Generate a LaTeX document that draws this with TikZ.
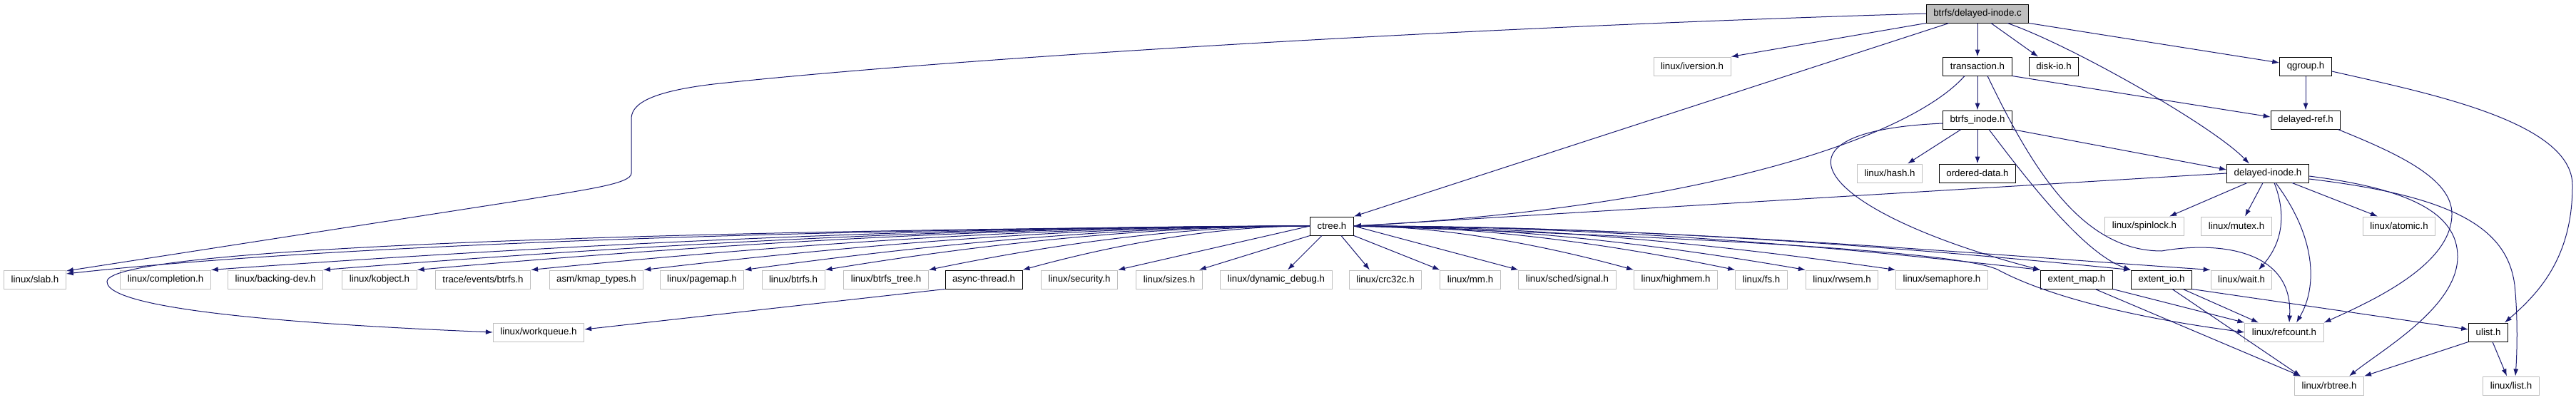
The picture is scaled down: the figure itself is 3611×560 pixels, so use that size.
\documentclass[tikz,border=0pt]{standalone}
\usepackage{fontspec}
\setmainfont{Liberation Sans}
\usetikzlibrary{arrows.meta}
\definecolor{depblue}{HTML}{191970}
\definecolor{sysgray}{HTML}{BFBFBF}

\begin{document}
\begin{tikzpicture}[
    x=1pt, y=-1pt,
    >={Latex[length=10pt,width=7pt]},
    dep/.style={->, line width=1pt, draw=depblue},
    hdr/.style={
        rectangle,
        minimum height=26pt,
        inner xsep=10pt,
        inner ysep=0pt,
        line width=1pt,
        fill=white,
        font=\fontsize{13.3}{15}\selectfont
    },
    doc/.style={hdr, draw=black},
    sys/.style={hdr, draw=sysgray},
    srcfile/.style={hdr, draw=black, fill=sysgray}
]

    \useasboundingbox (0,0) rectangle (3611,560);

    %------------------------------------------------
    % 1. soubory nahore
    %------------------------------------------------
    \node[srcfile] (root) at (2772,19) {btrfs/delayed-inode.c};

    \node[sys] (iversion) at (2372,93) {linux/iversion.h};
    \node[doc] (trans)    at (2772,93) {transaction.h};
    \node[doc] (diskio)   at (2879,93) {disk-io.h};
    \node[doc] (qgroup)   at (3232,93) {qgroup.h};

    \node[doc] (binode) at (2772,168) {btrfs\_inode.h};
    \node[doc] (dref)   at (3232,168) {delayed-ref.h};

    \node[sys] (hash)   at (2649,243) {linux/hash.h};
    \node[doc] (odata)  at (2772,243) {ordered-data.h};
    \node[doc] (dinode) at (3179,243) {delayed-inode.h};

    \node[doc] (ctree)  at (1867,317) {ctree.h};
    \node[sys] (spin)   at (3006,317) {linux/spinlock.h};
    \node[sys] (mutex)  at (3135,317) {linux/mutex.h};
    \node[sys] (atomic) at (3363,317) {linux/atomic.h};

    %------------------------------------------------
    % 2. rada hlavicek pod ctree.h
    %------------------------------------------------
    \node[sys] (slab)    at (49,392)   {linux/slab.h};
    \node[sys] (compl)   at (232,392)  {linux/completion.h};
    \node[sys] (backdev) at (386,392)  {linux/backing-dev.h};
    \node[sys] (kobj)    at (532,392)  {linux/kobject.h};
    \node[sys] (trace)   at (677,392)  {trace/events/btrfs.h};
    \node[sys] (kmap)    at (836,392)  {asm/kmap\_types.h};
    \node[sys] (pagemap) at (984,392)  {linux/pagemap.h};
    \node[sys] (lbtrfs)  at (1112,392) {linux/btrfs.h};
    \node[sys] (btree)   at (1242,392) {linux/btrfs\_tree.h};
    \node[doc] (async)   at (1379,392) {async-thread.h};
    \node[sys] (secur)   at (1513,392) {linux/security.h};
    \node[sys] (sizes)   at (1639,392) {linux/sizes.h};
    \node[sys] (dyndbg)  at (1789,392) {linux/dynamic\_debug.h};
    \node[sys] (crc)     at (1942,392) {linux/crc32c.h};
    \node[sys] (mm)      at (2061,392) {linux/mm.h};
    \node[sys] (signal)  at (2197,392) {linux/sched/signal.h};
    \node[sys] (highmem) at (2349,392) {linux/highmem.h};
    \node[sys] (fs)      at (2469,392) {linux/fs.h};
    \node[sys] (rwsem)   at (2582,392) {linux/rwsem.h};
    \node[sys] (sema)    at (2722,392) {linux/semaphore.h};
    \node[doc] (emap)    at (2911,392) {extent\_map.h};
    \node[doc] (eio)     at (3030,392) {extent\_io.h};
    \node[sys] (wait)    at (3142,392) {linux/wait.h};

    \node[sys] (wqueue) at (755,466)  {linux/workqueue.h};
    \node[sys] (refc)   at (3202,466) {linux/refcount.h};
    \node[doc] (ulist)  at (3488,466) {ulist.h};

    \node[sys] (rbtree) at (3265,541) {linux/rbtree.h};
    \node[sys] (list)   at (3520,541) {linux/list.h};

    %------------------------------------------------
    % 3. zavislosti
    %------------------------------------------------
    \draw[dep] (root.west) .. controls (2000,40) and (1300,85) .. (1000,118)
        .. controls (900,130) and (885,150) .. (885,167) -- (885,243)
        .. controls (885,258) and (820,266) .. (731,281) -- ([yshift=12pt]slab.east);
    \draw[dep] (root.south west) -- (iversion.north east);
    \draw[dep] ([xshift=-40pt]root.south) -- (ctree.north east);
    \draw[dep] (root.south) -- (trans.north);
    \draw[dep] ([xshift=19pt]root.south) -- ([xshift=-22pt]diskio.north);
    \draw[dep] ([xshift=42pt]root.south) .. controls (2900,62) and (3100,175) .. ([xshift=-26pt]dinode.north);
    \draw[dep] (root.south east) -- ([yshift=5pt]qgroup.west);

    \draw[dep] (trans.south) -- (binode.north);
    \draw[dep] (trans.south east) -- ([yshift=4pt]dref.west);
    \draw[dep] ([xshift=-18pt]trans.south) .. controls (2680,190) and (2400,290) .. (ctree.east);
    \draw[dep] ([xshift=14pt]trans.south) .. controls (2850,240) and (2920,352) .. (3030,352)
        .. controls (3110,338) and (3215,350) .. ([xshift=7pt]refc.north);

    \draw[dep] ([xshift=-23pt]binode.south) -- ([xshift=25pt]hash.north);
    \draw[dep] (binode.south) -- (odata.north);
    \draw[dep] (binode.south east) -- ([yshift=5pt]dinode.west);
    \draw[dep] ([yshift=-5pt]binode.west) .. controls (2450,185) and (2560,300) .. (emap.north west);
    \draw[dep] ([xshift=16pt]binode.south) .. controls (2840,250) and (2920,355) .. (eio.north west);

    \draw[dep] (qgroup.south) -- (dref.north);
    \draw[dep] ([yshift=-7pt]qgroup.east) .. controls (3400,130) and (3606,170) .. (3606,260)
        .. controls (3606,360) and (3560,410) .. ([xshift=23pt]ulist.north);

    \draw[dep] ([xshift=-4pt]dref.south east) .. controls (3360,215) and (3437,250) .. (3437,300)
        .. controls (3437,370) and (3330,420) .. (refc.north east);

    \draw[dep] (dinode.west) -- (ctree.east);
    \draw[dep] ([xshift=-29pt]dinode.south) -- ([xshift=35pt]spin.north);
    \draw[dep] ([xshift=-7pt]dinode.south) -- ([xshift=12pt]mutex.north);
    \draw[dep] ([xshift=9pt]dinode.south) .. controls (3205,300) and (3200,340) .. ([xshift=24pt]wait.north);
    \draw[dep] ([xshift=11pt]dinode.south) .. controls (3245,330) and (3250,400) .. ([xshift=17pt]refc.north);
    \draw[dep] ([xshift=34pt]dinode.south) -- ([xshift=-30pt]atomic.north);
    \draw[dep] ([yshift=-4pt]dinode.east) .. controls (3380,265) and (3445,300) .. (3445,360)
        .. controls (3445,430) and (3340,490) .. ([xshift=28pt]rbtree.north);
    \draw[dep] ([yshift=-8pt]dinode.east) .. controls (3440,275) and (3515,320) .. (3525,400)
        .. controls (3530,450) and (3528,500) .. ([xshift=6pt]list.north);

    % ctree.h doleva
    \draw[dep] (ctree.west) .. controls (1000,322) and (400,350) .. ([yshift=8pt]slab.east);
    \draw[dep] (ctree.west) .. controls (1000,322) and (150,345) .. (150,395)
        .. controls (150,440) and (500,458) .. (wqueue.west);
    \draw[dep] (ctree.west) .. controls +(-540,0) and +(460,-33) .. (compl.north east);
    \draw[dep] (ctree.west) .. controls +(-480,0) and +(415,-33) .. (backdev.north east);
    \draw[dep] (ctree.west) .. controls +(-440,0) and +(375,-33) .. (kobj.north east);
    \draw[dep] (ctree.west) .. controls +(-380,0) and +(330,-33) .. (trace.north east);
    \draw[dep] (ctree.west) .. controls +(-330,0) and +(280,-33) .. (kmap.north east);
    \draw[dep] (ctree.west) .. controls +(-280,0) and +(240,-33) .. (pagemap.north east);
    \draw[dep] (ctree.west) .. controls +(-240,0) and +(200,-33) .. (lbtrfs.north east);
    \draw[dep] (ctree.west) .. controls +(-190,0) and +(160,-33) .. (btree.north east);
    \draw[dep] (ctree.west) .. controls +(-140,0) and +(120,-33) .. (async.north east);
    \draw[dep] (ctree.west) -- (secur.north east);
    \draw[dep] (ctree.south west) -- ([xshift=-5pt]sizes.north east);
    \draw[dep] ([xshift=-14pt]ctree.south) -- ([xshift=16pt]dyndbg.north);
    \draw[dep] (async.south west) -- ([yshift=4pt]wqueue.east);

    % ctree.h doprava
    \draw[dep] ([xshift=13pt]ctree.south) -- ([xshift=-22pt]crc.north);
    \draw[dep] (ctree.south east) -- (mm.north west);
    \draw[dep] (ctree.east) -- (signal.north west);
    \draw[dep] (ctree.east) .. controls +(130,0) and +(-120,-33) .. (highmem.north west);
    \draw[dep] (ctree.east) .. controls +(190,0) and +(-160,-33) .. (fs.north west);
    \draw[dep] (ctree.east) .. controls +(220,0) and +(-190,-33) .. (rwsem.north west);
    \draw[dep] (ctree.east) .. controls +(270,0) and +(-230,-33) .. (sema.north west);
    \draw[dep] (ctree.east) .. controls +(340,0) and +(-290,-33) .. (emap.north west);
    \draw[dep] (ctree.east) .. controls +(380,0) and +(-330,-33) .. (eio.north west);
    \draw[dep] (ctree.east) .. controls +(420,0) and +(-360,-25) .. (wait.north west);
    \draw[dep] (ctree.east) .. controls (2300,330) and (2740,350) .. (2800,378)
        .. controls (2850,405) and (2950,440) .. (refc.west);

    \draw[dep] (emap.south east) -- (refc.north west);
    \draw[dep] ([xshift=26pt]emap.south) -- ([xshift=-40pt]rbtree.north);
    \draw[dep] ([xshift=30pt]eio.south) -- ([xshift=-36pt]refc.north);
    \draw[dep] ([xshift=15pt]eio.south) -- ([xshift=-40pt]rbtree.north);
    \draw[dep] (eio.south east) -- ([yshift=4pt]ulist.west);

    \draw[dep] (ulist.south west) -- (rbtree.north east);
    \draw[dep] ([xshift=6pt]ulist.south) -- ([xshift=-6pt]list.north);

\end{tikzpicture}
\end{document}
